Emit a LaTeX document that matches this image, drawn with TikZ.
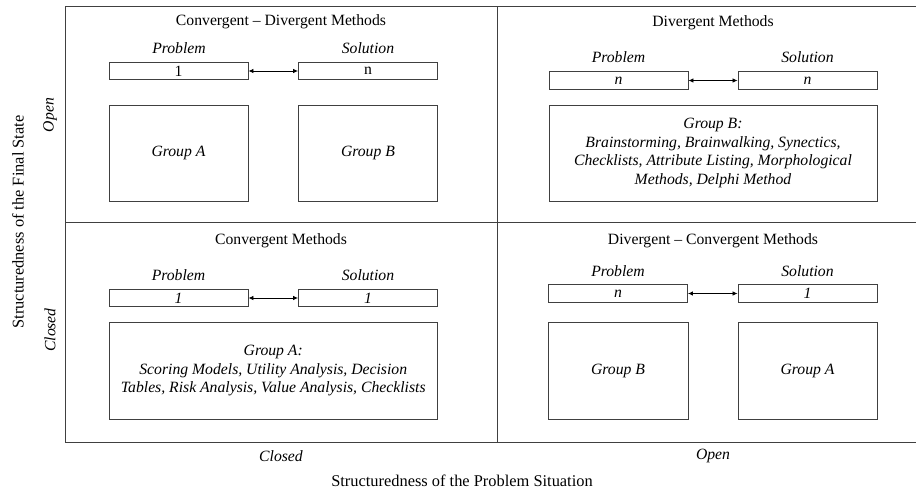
\documentclass[tikz,border=0pt]{standalone}
\usepackage{fontspec}
\setmainfont{Liberation Serif}
\usetikzlibrary{arrows.meta}
\begin{document}
\begin{tikzpicture}[x=1pt,y=-1pt,
  frameline/.style={draw=black!75,line width=0.9pt},
  smallbox/.style={draw=black!75,line width=0.9pt,rectangle,minimum width=139pt,minimum height=17.5pt,inner sep=0pt,font=\fontsize{15.7}{18.5}\selectfont},
  groupbox/.style={draw=black!75,line width=0.9pt,rectangle,inner sep=0pt,align=center,font=\fontsize{15.7}{18.7}\selectfont\itshape},
  ttl/.style={font=\fontsize{15.7}{18.5}\selectfont,inner sep=0pt},
  lbl/.style={font=\fontsize{15.7}{18.5}\selectfont\itshape,inner sep=0pt},
  axis/.style={font=\fontsize{16.4}{19}\selectfont,inner sep=0pt},
  link/.style={{Latex[length=5pt,width=4.5pt]}-{Latex[length=5pt,width=4.5pt]},black,line width=0.8pt}]
\useasboundingbox (0,0) rectangle (916,495);
% frame
\coordinate (fTL) at (65.5,6.5);
\coordinate (fTR) at (917,6.5);
\coordinate (fBL) at (65.5,442);
\coordinate (fBR) at (917,442);
\coordinate (mT) at (497,6.5);
\coordinate (mB) at (497,442);
\coordinate (hL) at (65.5,222);
\coordinate (hR) at (917,222);
\draw[frameline] (fTR) -- (fTL) -- (fBL) -- (fBR);
\draw[frameline] (mT) -- (mB);
\draw[frameline] (hL) -- (hR);
% top-left quadrant
\node[ttl] (t1) at (281,22) {Convergent – Divergent Methods};
\node[lbl] (l1p) at (179,48) {Problem};
\node[lbl] (l1s) at (368,48) {Solution};
\node[smallbox] (p1) at (178.5,71) {1};
\node[smallbox] (s1) at (368,71) {n};
\draw[link] (p1) -- (s1);
\node[groupbox,minimum width=139pt,minimum height=96pt] (g1a) at (178.5,153) {Group A};
\node[groupbox,minimum width=139pt,minimum height=96pt] (g1b) at (368,153) {Group B};
% top-right quadrant
\node[ttl] (t2) at (713,23) {Divergent Methods};
\node[lbl] (l2p) at (618.5,57) {Problem};
\node[lbl] (l2s) at (807.5,57) {Solution};
\node[smallbox,font=\fontsize{15.7}{18.5}\selectfont\itshape] (p2) at (618.5,80.5) {n};
\node[smallbox,font=\fontsize{15.7}{18.5}\selectfont\itshape] (s2) at (807.5,80.5) {n};
\draw[link] (p2) -- (s2);
\node[groupbox,minimum width=328pt,minimum height=96pt] (g2) at (713,153) {Group B:\\Brainstorming, Brainwalking, Synectics,\\Checklists, Attribute Listing, Morphological\\Methods, Delphi Method};
% bottom-left quadrant
\node[ttl] (t3) at (281,241) {Convergent Methods};
\node[lbl] (l3p) at (178.5,275) {Problem};
\node[lbl] (l3s) at (368,275) {Solution};
\node[smallbox,font=\fontsize{15.7}{18.5}\selectfont\itshape] (p3) at (178.5,298) {1};
\node[smallbox,font=\fontsize{15.7}{18.5}\selectfont\itshape] (s3) at (368,298) {1};
\draw[link] (p3) -- (s3);
\node[groupbox,minimum width=328.5pt,minimum height=97pt] (g3) at (273.25,370.5) {Group A:\\Scoring Models, Utility Analysis, Decision\\Tables, Risk Analysis, Value Analysis, Checklists};
% bottom-right quadrant
\node[ttl] (t4) at (713,241) {Divergent – Convergent Methods};
\node[lbl] (l4p) at (618,271) {Problem};
\node[lbl] (l4s) at (807.5,271) {Solution};
\node[smallbox,font=\fontsize{15.7}{18.5}\selectfont\itshape] (p4) at (618,293.5) {n};
\node[smallbox,font=\fontsize{15.7}{18.5}\selectfont\itshape] (s4) at (807.5,293.5) {1};
\draw[link] (p4) -- (s4);
\node[groupbox,minimum width=140pt,minimum height=97pt] (g4b) at (618,370.5) {Group B};
\node[groupbox,minimum width=139pt,minimum height=97pt] (g4a) at (807.5,370.5) {Group A};
% axis labels
\node[axis,rotate=90] (ay) at (18,222) {Structuredness of the Final State};
\node[lbl,rotate=90] (ayo) at (50,115) {Open};
\node[lbl,rotate=90] (ayc) at (50,330) {Closed};
\node[lbl] (axc) at (281,456) {Closed};
\node[lbl] (axo) at (713,456) {Open};
\node[axis] (ax) at (462,481) {Structuredness of the Problem Situation};
\end{tikzpicture}
\end{document}
